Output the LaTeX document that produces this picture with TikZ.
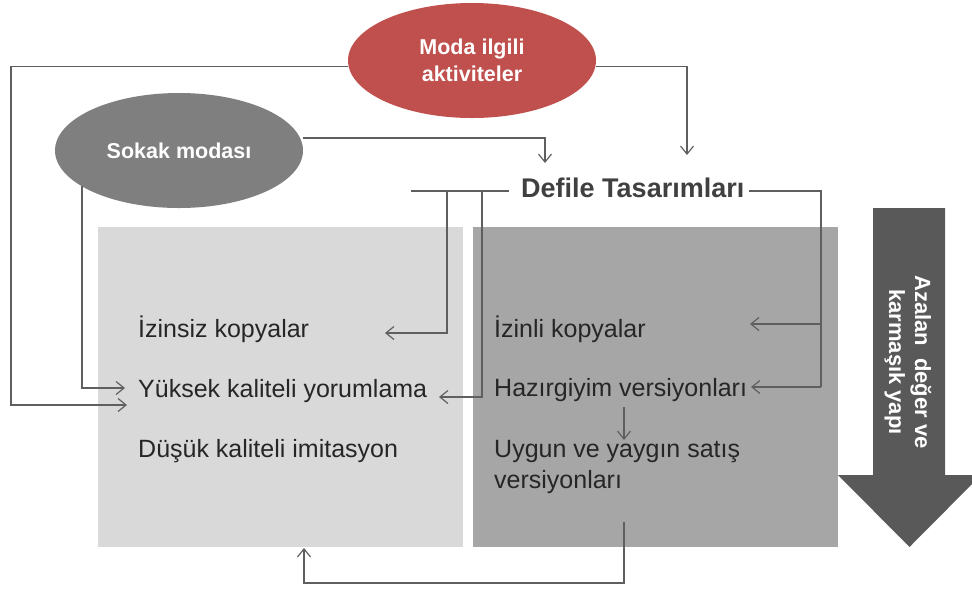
\documentclass[tikz,border=0pt]{standalone}
\usepackage{fontspec}
\setmainfont{Liberation Sans}
\usetikzlibrary{arrows.meta,shapes.geometric}
\definecolor{modared}{HTML}{C0504D}
\definecolor{sokakgray}{HTML}{7F7F7F}
\definecolor{boxlight}{HTML}{D9D9D9}
\definecolor{boxdark}{HTML}{A6A6A6}
\definecolor{arrowgray}{HTML}{595959}
\definecolor{linegray}{HTML}{5F5F5F}
\definecolor{txt}{HTML}{262626}
\definecolor{deftxt}{HTML}{404040}
\begin{document}
\begin{tikzpicture}[x=1pt,y=-1pt,
  conn/.style={draw=linegray, line width=1.2pt},
  arr/.style={conn,-{Straight Barb[length=8pt,width=13pt,line width=1.2pt]}},
  lbl/.style={anchor=base west, inner sep=0, text=txt, font=\fontsize{25}{30}\selectfont},
  blob/.style={ellipse, minimum width=248pt, minimum height=115pt, inner sep=0,
    text=white, font=\bfseries\fontsize{21.5}{27}\selectfont, align=center},
  panel/.style={anchor=north west, inner sep=0, minimum width=365pt, minimum height=320pt}
]
\clip (0,0) rectangle (972,590);
\fill[white] (0,0) rectangle (972,590);

% panels
\node[panel, fill=boxlight] (lbox) at (98,227) {};
\node[panel, fill=boxdark] (rbox) at (473,227) {};

% big arrow
\fill[arrowgray] (873,208) -- (945,208) -- (945,475) -- (981,475) -- (909.5,547)
  -- (838,475) -- (873,475) -- cycle;
\node[rotate=-90, text=white, font=\bfseries\fontsize{22}{26}\selectfont, align=center]
  (azal) at (908,362) {Azalan\ \ değer ve\\karmaşık yapı};

% ellipses
\node[blob, fill=modared] (moda) at (472,60.5) {Moda ilgili\\aktiviteler};
\node[blob, fill=sokakgray] (sokak) at (179,150.5) {Sokak modası};

% title
\node[anchor=base west, inner sep=0, text=deftxt, font=\bfseries\fontsize{27}{30}\selectfont]
  (defile) at (521,197) {Defile Tasarımları};

% texts
\node[lbl] (izs) at (138,337) {İzinsiz kopyalar};
\node[lbl] (yuk) at (138,397) {Yüksek kaliteli yorumlama};
\node[lbl] (dus) at (138,457) {Düşük kaliteli imitasyon};
\node[lbl] (izl) at (494,337) {İzinli kopyalar};
\node[lbl] (haz) at (494,396) {Hazırgiyim versiyonları};
\node[lbl] (uyg1) at (494,457) {Uygun ve yaygın satış};
\node[lbl] (uyg2) at (494,488) {versiyonları};

% coordinates
\coordinate (lA) at (11,405);
\coordinate (tipA) at (127,405);
\coordinate (tipB) at (687,155);
\coordinate (tipC) at (545,163);
\coordinate (sD) at (82,186);
\coordinate (tipD) at (125,388);
\coordinate (dl) at (411,191);
\coordinate (dr) at (509,191);
\coordinate (d1) at (447,191);
\coordinate (d2) at (482,191);
\coordinate (tipE) at (385,333);
\coordinate (tipF) at (439,397);
\coordinate (dre) at (749,191);
\coordinate (dx) at (821,191);
\coordinate (dg) at (821,324);
\coordinate (tipG) at (750,324);
\coordinate (dh) at (821,387);
\coordinate (tipH) at (751,387);
\coordinate (hz1) at (624,407);
\coordinate (hz2) at (624,440);
\coordinate (b1) at (624,522);
\coordinate (b2) at (304,583);
\coordinate (tipB2) at (304,548);

% connectors
\draw[arr] ([yshift=-6pt]moda.west) -| (lA) -- (tipA);
\draw[arr] ([yshift=-6pt]moda.east) -| (tipB);
\draw[arr] ([yshift=12.5pt]sokak.east) -| (tipC);
\draw[arr] (sD) |- (tipD);
\draw[conn] (dl) -- (dr);
\draw[arr] (d1) |- (tipE);
\draw[arr] (d2) |- (tipF);
\draw[conn] (dre) -- (dx) -- (dh);
\draw[arr] (dh) -- (tipH);
\draw[arr] (dg) -- (tipG);
\draw[arr] (hz1) -- (hz2);
\draw[arr] (b1) |- (b2) -- (tipB2);
\end{tikzpicture}
\end{document}
